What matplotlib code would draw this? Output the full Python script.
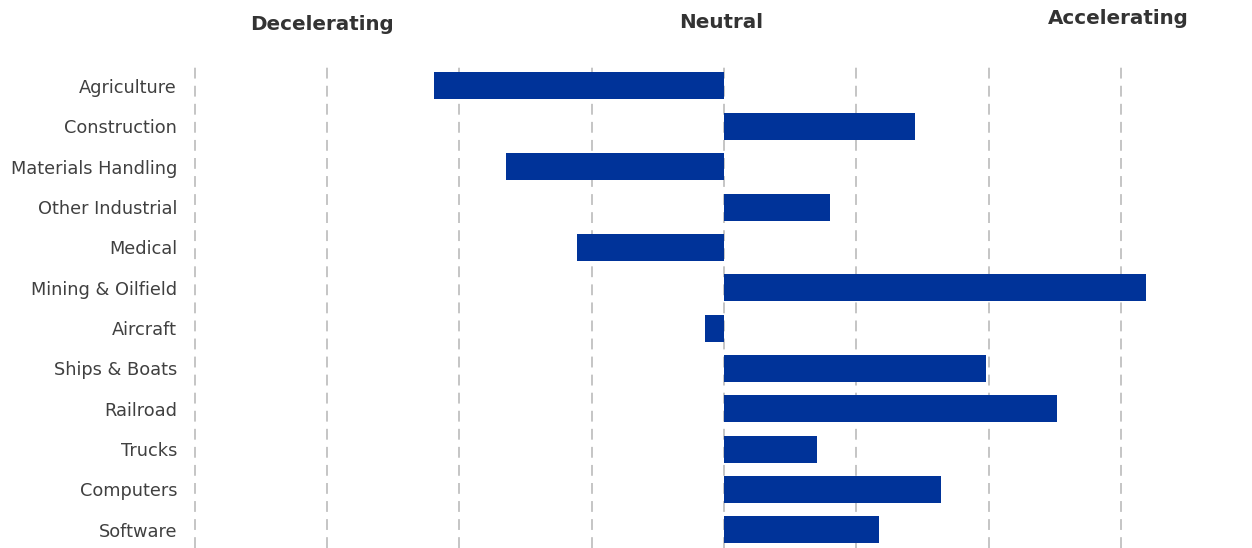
import matplotlib
matplotlib.use("Agg")
import matplotlib.pyplot as plt

categories = ["Agriculture", "Construction", "Materials Handling", "Other Industrial",
              "Medical", "Mining & Oilfield", "Aircraft", "Ships & Boats",
              "Railroad", "Trucks", "Computers", "Software"]
values = [-2.19, 1.44, -1.65, 0.80, -1.11, 3.19, -0.14, 1.98, 2.52, 0.70, 1.64, 1.17]
grid_ticks = [-4, -3, -2, -1, 0, 1, 2, 3]
headers = ["Decelerating", "Neutral", "Accelerating"]

W, H = 1252, 548
unit = 132.3
fig = plt.figure(figsize=(W / 100, H / 100), dpi=100)
left_px = 724 - 4.05 * unit
ax = fig.add_axes([left_px / W, 0, 8.05 * unit / W, (548 - 65) / H])

ypos = list(range(len(categories)))
ax.barh(ypos, values, height=0.67, color="#003399", zorder=3)
ax.set_xlim(-4.05, 4)
ax.set_ylim(11.45, -0.52)
ax.set_yticks(ypos)
ax.set_yticklabels(categories, fontsize=12.8, color="#404040")
ax.set_xticks(grid_ticks)
ax.set_xticklabels([])
ax.tick_params(axis="both", length=0)
ax.tick_params(axis="y", pad=8)
ax.grid(axis="x", color="#c0c0c0", linestyle=(0, (6, 4)), linewidth=1.3, zorder=0)
ax.grid(axis="y", visible=False)
for s in ax.spines.values():
    s.set_visible(False)

for txt, xp, yp in zip(headers, [322, 721, 1118], [24, 23, 19]):
    fig.text(xp / W, 1 - yp / H, txt, ha="center", va="center",
             fontsize=14.3, fontweight="bold", color="#333333")

fig.savefig("out.png", dpi=100)
